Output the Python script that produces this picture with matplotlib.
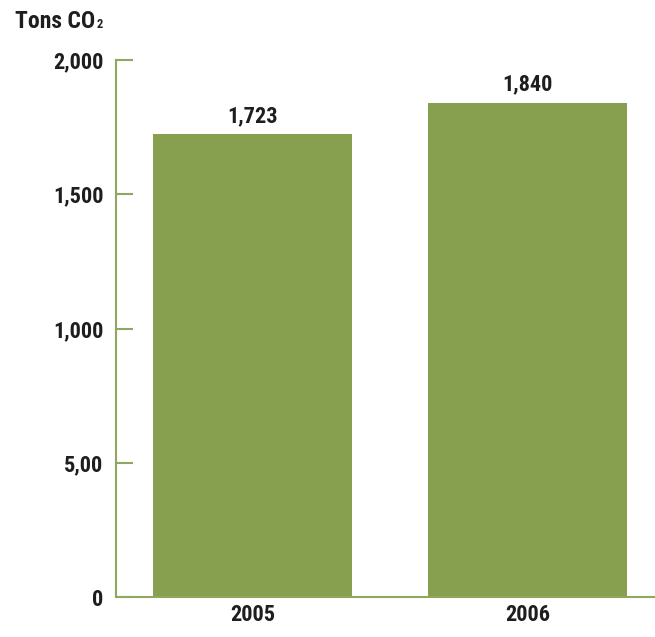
import matplotlib
matplotlib.use("Agg")
import matplotlib.pyplot as plt
from matplotlib import font_manager

years = ["2005", "2006"]
values = [1723, 1840]
value_labels = ["1,723", "1,840"]
yticks = [0, 500, 1000, 1500, 2000]
ytick_labels = ["0", "5,00", "1,000", "1,500", "2,000"]

names = {f.name for f in font_manager.fontManager.ttflist}
prefs = ["Roboto Condensed", "Liberation Sans Narrow", "Archivo Narrow", "Barlow Condensed", "Asap Condensed"]
fam = [n for n in prefs if n in names][:1] + ["DejaVu Sans"]
plt.rcParams["font.family"] = fam

bar_color = "#87A04F"
axis_color = "#8FA860"
text_color = "#1E1E1E"
fs = 16

fig = plt.figure(figsize=(6.55, 6.37), dpi=100)
ax = fig.add_axes([116/655, 40/637, 539/655, 537/637])
x = list(range(len(years)))
ax.bar(x, values, width=0.724, color=bar_color, zorder=2)
ax.set_xlim(-0.496, 1.4636)
ax.set_ylim(0, 2000)
ax.set_yticks(yticks)
ax.set_yticklabels(ytick_labels, fontsize=fs, fontweight="bold", color=text_color)
ax.set_xticks(x)
ax.set_xticklabels(years, fontsize=fs, fontweight="bold", color=text_color)
ax.tick_params(axis="y", direction="in", length=12, width=1.5, color=axis_color, pad=9)
ax.tick_params(axis="x", length=0, pad=5)
for s in ["top", "right"]:
    ax.spines[s].set_visible(False)
for s in ["left", "bottom"]:
    ax.spines[s].set_color(axis_color)
    ax.spines[s].set_linewidth(1.5)
for xi, v, lab in zip(x, values, value_labels):
    ax.text(xi, v + 28, lab, ha="center", va="bottom", fontsize=fs,
            fontweight="bold", color=text_color)
title = fig.text(15/655, 1 - 21/637, "Tons CO", ha="left", va="center",
                 fontsize=17, fontweight="bold", color=text_color)
fig.canvas.draw()
bb = title.get_window_extent()
fig.text(bb.x1 / 655 + 0.002, (bb.y0 + 1) / 637, "2", ha="left", va="bottom",
         fontsize=9, fontweight="bold", color=text_color)
fig.savefig("out.png", dpi=100)
